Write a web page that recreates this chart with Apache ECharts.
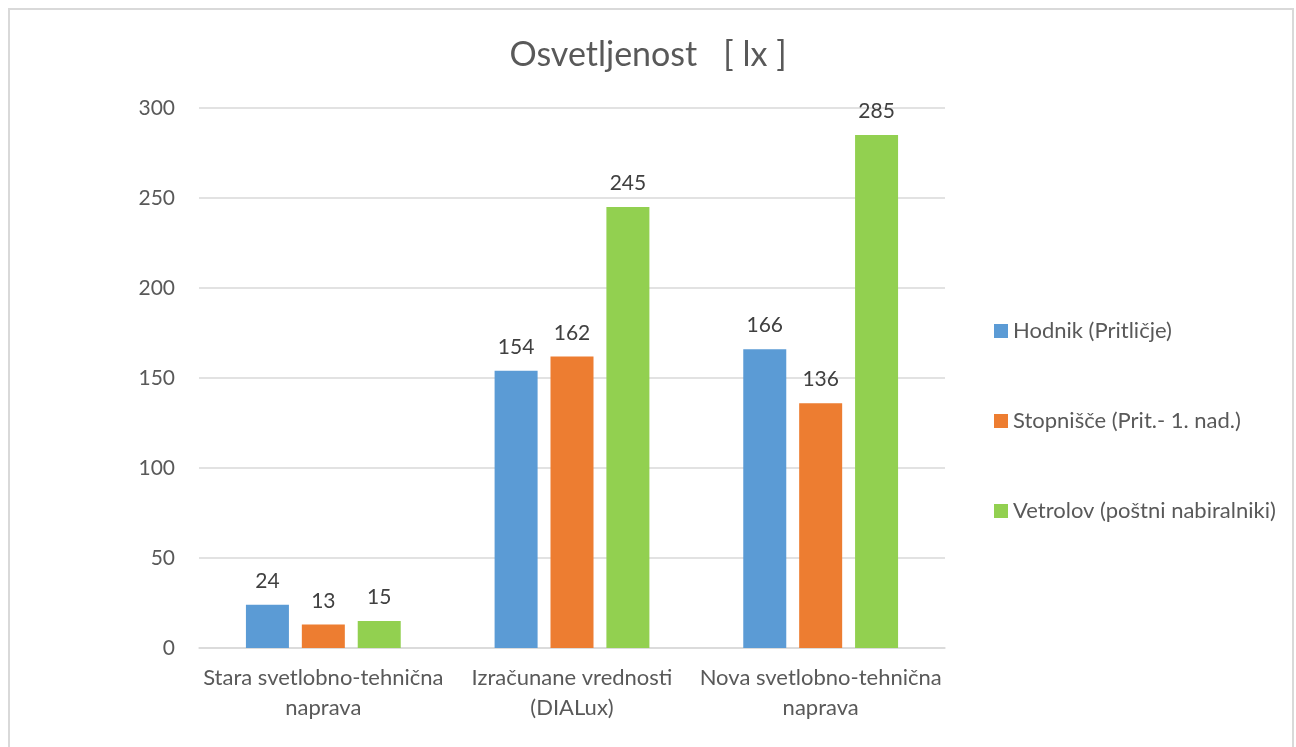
<!DOCTYPE html>
<html>
<head>
<meta charset="utf-8">
<script src="https://cdn.jsdelivr.net/npm/echarts@6/dist/echarts.min.js"></script>
<style>html,body{margin:0;padding:0;background:#fff}#c{width:1296px;height:747px}</style>
</head>
<body>
<div id="c"></div>
<script>
const categories = ['Stara svetlobno-tehnična\nnaprava', 'Izračunane vrednosti\n(DIALux)', 'Nova svetlobno-tehnična\nnaprava'];
const seriesNames = ['Hodnik (Pritličje)', 'Stopnišče (Prit.- 1. nad.)', 'Vetrolov (poštni nabiralniki)'];
const hodnik = [24, 154, 166];
const stopnisce = [13, 162, 136];
const vetrolov = [15, 245, 285];
const colors = ['#5B9BD5', '#ED7D31', '#92D050'];
const font = 'Lato, "Open Sans", sans-serif';

const chart = echarts.init(document.getElementById('c'));
const mk = (name, data, color) => ({
  name, type: 'bar', data,
  barWidth: 43, barGap: '30%',
  itemStyle: { color },
  label: { show: true, position: 'top', distance: 13, color: '#404040', fontSize: 21, fontFamily: font }
});
chart.setOption({
  animation: false,
  color: colors,
  title: {
    text: 'Osvetljenost   [ lx ]', left: 'center', top: 33,
    textStyle: { color: '#595959', fontSize: 34, fontWeight: 'normal', fontFamily: font }
  },
  graphic: [{ type: 'rect', shape: { x: 9, y: 9, width: 1284, height: 760 }, style: { fill: 'none', stroke: '#d9d9d9', lineWidth: 2 } }],
  legend: {
    orient: 'vertical', left: 989, top: 315, itemGap: 68,
    itemWidth: 14, itemHeight: 14, icon: 'rect',
    textStyle: { color: '#595959', fontSize: 22, fontFamily: font, lineHeight: 22 },
    data: seriesNames
  },
  grid: { left: 199, right: 351, top: 108, bottom: 99 },
  xAxis: {
    type: 'category', data: categories,
    axisLine: { lineStyle: { color: '#d9d9d9', width: 1.5 } },
    axisTick: { show: false },
    axisLabel: { interval: 0, color: '#595959', fontSize: 22, fontFamily: font, lineHeight: 30, margin: 15 }
  },
  yAxis: {
    type: 'value', min: 0, max: 300, interval: 50,
    axisLine: { show: false }, axisTick: { show: false },
    splitLine: { lineStyle: { color: '#d9d9d9', width: 1.5 } },
    axisLabel: { color: '#595959', fontSize: 21, fontFamily: font, margin: 24 }
  },
  series: [mk(seriesNames[0], hodnik, colors[0]), mk(seriesNames[1], stopnisce, colors[1]), mk(seriesNames[2], vetrolov, colors[2])]
});
</script>
</body>
</html>
